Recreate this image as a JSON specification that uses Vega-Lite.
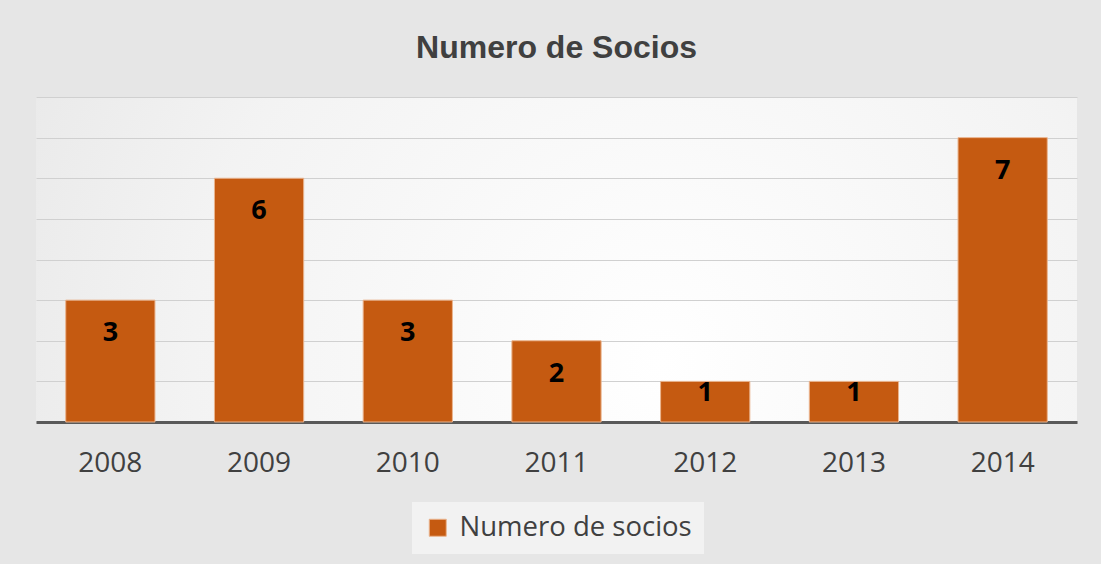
{
  "$schema": "https://vega.github.io/schema/vega-lite/v6.json",
  "width": 1041,
  "height": 325,
  "padding": {"left": 36, "top": 32, "right": 24, "bottom": 10},
  "background": "#e6e6e6",
  "title": {
    "text": "Numero de Socios",
    "font": "Liberation Sans",
    "fontSize": 32,
    "fontWeight": "bold",
    "color": "#404040",
    "anchor": "middle",
    "offset": 32
  },
  "data": {
    "values": [
      {"year": "2008", "socios": 3, "serie": "Numero de socios"},
      {"year": "2009", "socios": 6, "serie": "Numero de socios"},
      {"year": "2010", "socios": 3, "serie": "Numero de socios"},
      {"year": "2011", "socios": 2, "serie": "Numero de socios"},
      {"year": "2012", "socios": 1, "serie": "Numero de socios"},
      {"year": "2013", "socios": 1, "serie": "Numero de socios"},
      {"year": "2014", "socios": 7, "serie": "Numero de socios"}
    ]
  },
  "config": {
    "view": {
      "stroke": null,
      "fill": {
        "gradient": "radial",
        "x1": 0.6, "y1": 0.6, "x2": 0.6, "y2": 0.6,
        "r1": 0, "r2": 0.75,
        "stops": [
          {"offset": 0, "color": "#ffffff"},
          {"offset": 0.6, "color": "#f3f3f3"},
          {"offset": 1, "color": "#e6e6e6"}
        ]
      }
    }
  },
  "encoding": {
    "x": {
      "field": "year",
      "type": "nominal",
      "scale": {"paddingInner": 0.4, "paddingOuter": 0.2},
      "axis": {
        "title": null,
        "labelAngle": 0,
        "ticks": false,
        "tickSize": 0,
        "domainColor": "#595959",
        "domainWidth": 3,
        "labelFont": "Open Sans",
        "labelFontSize": 28,
        "labelColor": "#404040",
        "labelPadding": 27
      }
    },
    "y": {
      "field": "socios",
      "type": "quantitative",
      "scale": {"domain": [0, 8], "nice": false},
      "axis": {
        "title": null,
        "labels": false,
        "ticks": false,
        "domain": false,
        "grid": true,
        "gridColor": "#d0d0d0",
        "gridWidth": 1,
        "values": [0, 1, 2, 3, 4, 5, 6, 7, 8]
      }
    }
  },
  "layer": [
    {
      "mark": {"type": "bar", "stroke": "#eab48e", "strokeWidth": 1},
      "encoding": {
        "color": {
          "field": "serie",
          "type": "nominal",
          "scale": {"range": ["#c55a11"]},
          "legend": {
            "title": null,
            "orient": "none",
            "legendX": 376,
            "legendY": 405,
            "direction": "horizontal",
            "symbolType": "square",
            "symbolSize": 289,
            "symbolStrokeColor": "#eab48e",
            "symbolStrokeWidth": 1,
            "labelFont": "Open Sans",
            "labelFontSize": 27.5,
            "labelColor": "#404040",
            "labelLimit": 400,
            "labelOffset": 8,
            "fillColor": "#f2f2f2",
            "padding": 12
          }
        }
      }
    },
    {
      "mark": {
        "type": "text",
        "font": "Open Sans",
        "fontWeight": "bold",
        "fontSize": 27,
        "color": "#000000",
        "baseline": "middle",
        "dy": {"expr": "datum.socios == 1 ? 12 : 33"}
      },
      "encoding": {
        "text": {"field": "socios", "type": "quantitative"}
      }
    }
  ]
}
